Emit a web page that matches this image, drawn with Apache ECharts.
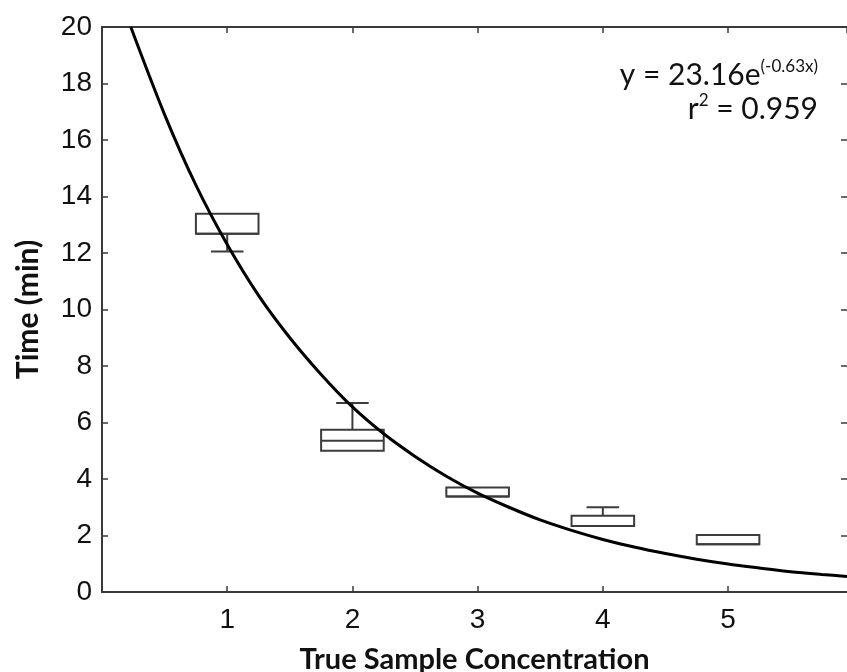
<!DOCTYPE html>
<html>
<head>
<meta charset="utf-8">
<script src="https://cdn.jsdelivr.net/npm/echarts@6/dist/echarts.min.js"></script>
<style>
html,body{margin:0;padding:0;background:#fff;}
#main{width:847px;height:672px;}
</style>
</head>
<body>
<div id="main"></div>
<script>
// Box plot data
const concentrations = [1, 2, 3, 4, 5];
const whiskerLow  = [12.05, 5.00, 3.38, 2.34, 1.69];
const q1          = [12.68, 5.00, 3.38, 2.34, 1.69];
const median      = [12.68, 5.35, 3.38, 2.34, 1.69];
const q3          = [13.39, 5.74, 3.70, 2.70, 2.02];
const whiskerHigh = [13.39, 6.69, 3.70, 3.00, 2.02];

// Fitted curve points
const curveX = [0.23, 0.5, 0.75, 1.0, 1.25, 1.5, 1.75, 2.0, 2.25, 2.5, 2.75, 3.0, 3.25, 3.5, 3.75, 4.0, 4.25, 4.5, 4.75, 5.0, 5.25, 5.5, 5.75, 5.95];
const curveY = [20.0, 16.9, 14.4, 12.3, 10.5, 9.0, 7.7, 6.55, 5.6, 4.8, 4.1, 3.5, 3.0, 2.55, 2.18, 1.86, 1.59, 1.36, 1.16, 0.99, 0.85, 0.72, 0.62, 0.55];

// Tick labels
const xTickLabels = ['1', '2', '3', '4', '5'];

const boxData = concentrations.map((c, i) => [c, whiskerLow[i], q1[i], median[i], q3[i], whiskerHigh[i]]);
const curveData = curveX.map((x, i) => [x, curveY[i]]);

const chart = echarts.init(document.getElementById('main'));
const frameColor = '#3a3a3a';
const tickFont = 'Liberation Sans, Arial, sans-serif';
const nameFont = 'Lato, "Open Sans", sans-serif';

function renderBox(params, api) {
  const x = api.value(0);
  const lo = api.value(1), a = api.value(2), m = api.value(3), b = api.value(4), hi = api.value(5);
  const halfW = api.size([0.5, 0])[0] / 2;
  const capW = api.size([0.26, 0])[0] / 2;
  const pA = api.coord([x, a]);
  const pB = api.coord([x, b]);
  const pM = api.coord([x, m]);
  const pLo = api.coord([x, lo]);
  const pHi = api.coord([x, hi]);
  const style = { stroke: '#3c3c3c', lineWidth: 2, fill: null };
  const children = [
    { type: 'rect', shape: { x: pB[0] - halfW, y: pB[1], width: 2 * halfW, height: pA[1] - pB[1] }, style: { stroke: '#3c3c3c', lineWidth: 2, fill: '#fff' } },
    { type: 'line', shape: { x1: pM[0] - halfW, y1: pM[1], x2: pM[0] + halfW, y2: pM[1] }, style }
  ];
  if (hi > b) {
    children.push({ type: 'line', shape: { x1: pHi[0], y1: pHi[1], x2: pB[0], y2: pB[1] }, style });
    children.push({ type: 'line', shape: { x1: pHi[0] - capW, y1: pHi[1], x2: pHi[0] + capW, y2: pHi[1] }, style });
  }
  if (lo < a) {
    children.push({ type: 'line', shape: { x1: pLo[0], y1: pLo[1], x2: pA[0], y2: pA[1] }, style });
    children.push({ type: 'line', shape: { x1: pLo[0] - capW, y1: pLo[1], x2: pLo[0] + capW, y2: pLo[1] }, style });
  }
  return { type: 'group', children };
}

const axisCommon = {
  type: 'value',
  splitLine: { show: false },
  axisLine: { show: true, onZero: false, lineStyle: { color: frameColor, width: 2 } },
  axisTick: { show: true, inside: true, length: 6, lineStyle: { color: frameColor, width: 1.5 } }
};

chart.setOption({
  backgroundColor: '#fff',
  animation: false,
  grid: { left: 102, top: 27, right: 0, bottom: 80, containLabel: false, outerBoundsMode: 'none' },
  xAxis: [
    Object.assign({}, axisCommon, {
      min: 0, max: 5.95, interval: 1, position: 'bottom',
      axisLabel: {
        show: true, margin: 14, color: '#111', fontSize: 28, fontFamily: tickFont,
        showMaxLabel: false,
        formatter: v => (v >= 1 && v <= 5 ? xTickLabels[v - 1] : '')
      },
      name: 'True Sample Concentration', nameLocation: 'middle', nameGap: 53,
      nameTextStyle: { fontSize: 29, fontWeight: 'bold', color: '#111', fontFamily: nameFont }
    }),
    Object.assign({}, axisCommon, {
      min: 0, max: 5.95, interval: 1, position: 'top', axisLabel: { show: false }
    })
  ],
  yAxis: [
    Object.assign({}, axisCommon, {
      min: 0, max: 20, interval: 2, position: 'left',
      axisLabel: { show: true, margin: 10, color: '#111', fontSize: 28, fontFamily: tickFont },
      name: 'Time (min)', nameLocation: 'middle', nameGap: 59,
      nameTextStyle: { fontSize: 30, fontWeight: 'bold', color: '#111', fontFamily: nameFont }
    }),
    Object.assign({}, axisCommon, {
      min: 0, max: 20, interval: 2, position: 'right', axisLabel: { show: false },
      axisLine: { show: false, onZero: false }
    })
  ],
  series: [
    {
      type: 'custom',
      name: 'boxes',
      xAxisIndex: 0, yAxisIndex: 0,
      renderItem: renderBox,
      encode: { x: 0, y: [1, 2, 3, 4, 5] },
      data: boxData,
      z: 2
    },
    {
      type: 'line',
      name: 'fit',
      xAxisIndex: 0, yAxisIndex: 0,
      data: curveData,
      smooth: 0.3,
      showSymbol: false,
      symbol: 'none',
      clip: true,
      lineStyle: { color: '#000', width: 3 },
      z: 3
    }
  ],
  graphic: [
    {
      type: 'text', right: 29, top: 58, z: 10,
      style: {
        text: '{m|y = 23.16e}{s|(-0.63x)}',
        align: 'right',
        rich: {
          m: { fontSize: 30, fontFamily: nameFont, fill: '#111', verticalAlign: 'bottom' },
          s: { fontSize: 17, fontFamily: nameFont, fill: '#111', padding: [0, 0, 15, 0], verticalAlign: 'bottom' }
        }
      }
    },
    {
      type: 'text', right: 29, top: 92, z: 10,
      style: {
        text: '{m|r}{s|2}{m| = 0.959}',
        align: 'right',
        rich: {
          m: { fontSize: 30, fontFamily: nameFont, fill: '#111', verticalAlign: 'bottom' },
          s: { fontSize: 17, fontFamily: nameFont, fill: '#111', padding: [0, 0, 15, 0], verticalAlign: 'bottom' }
        }
      }
    }
  ]
});
</script>
</body>
</html>
